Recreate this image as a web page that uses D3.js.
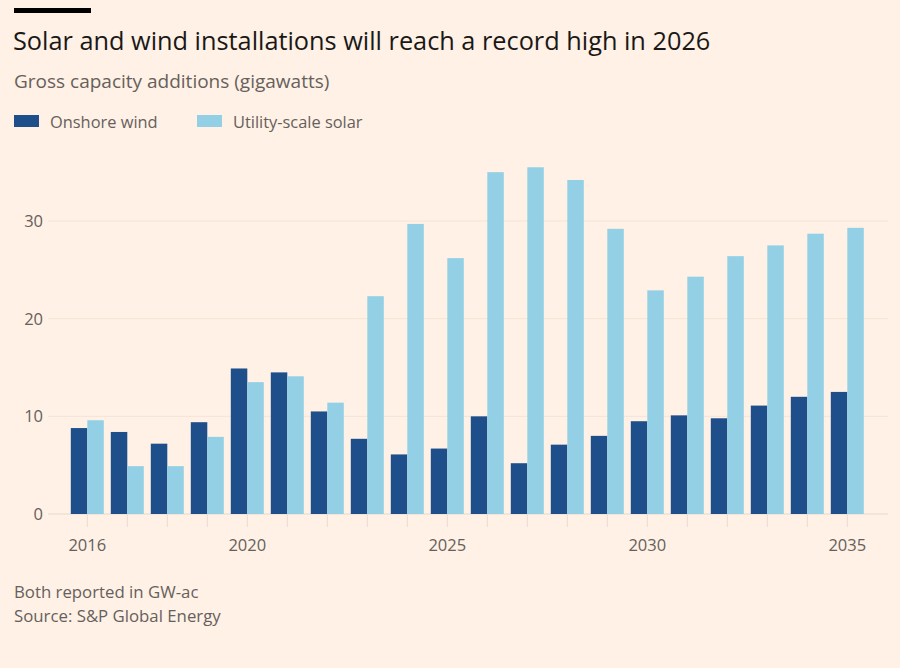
<!DOCTYPE html>
<html>
<head>
<meta charset="utf-8">
<script src="https://cdn.jsdelivr.net/npm/d3@7"></script>
<style>
  html, body { margin: 0; padding: 0; background: #fff1e5; }
  svg { display: block; font-family: 'Open Sans', Lato, sans-serif; }
</style>
</head>
<body>
<svg id="chart" width="900" height="668"></svg>
<script>
// ---- data ----
const years = d3.range(2016, 2036);
const onshoreWind = [8.8, 8.4, 7.2, 9.4, 14.9, 14.5, 10.5, 7.7, 6.1, 6.7,
                     10.0, 5.2, 7.1, 8.0, 9.5, 10.1, 9.8, 11.1, 12.0, 12.5];
const utilitySolar = [9.6, 4.9, 4.9, 7.9, 13.5, 14.1, 11.4, 22.3, 29.7, 26.2,
                      35.0, 35.5, 34.2, 29.2, 22.9, 24.3, 26.4, 27.5, 28.7, 29.3];
const yTicks = [0, 10, 20, 30];
const xLabels = [2016, 2020, 2025, 2030, 2035];
const series = [
  { key: 'wind',  label: 'Onshore wind',       values: onshoreWind,  color: '#1f4f8a' },
  { key: 'solar', label: 'Utility-scale solar', values: utilitySolar, color: '#93d0e5' }
];

const svg = d3.select('#chart');
const grey = '#66605c';

// headline block
svg.append('rect').attr('x', 14).attr('y', 8).attr('width', 77).attr('height', 5).attr('fill', '#000');
svg.append('text')
  .attr('x', 13).attr('y', 50)
  .attr('font-size', 25.3).attr('fill', '#1a1817')
  .text('Solar and wind installations will reach a record high in 2026');
svg.append('text')
  .attr('x', 14).attr('y', 87.5)
  .attr('font-size', 19).attr('fill', grey)
  .text('Gross capacity additions (gigawatts)');

// legend
const legX = [14, 197];
series.forEach((s, i) => {
  svg.append('rect').attr('x', legX[i]).attr('y', 115).attr('width', 25).attr('height', 12).attr('fill', s.color);
  svg.append('text').attr('x', legX[i] + 36).attr('y', 127.5)
    .attr('font-size', 16.4).attr('fill', grey).text(s.label);
});

// scales
const y = d3.scaleLinear().domain([0, 30]).range([514, 221]);
const x = d3.scaleBand().domain(years).range([67.3, 867.3])
  .paddingInner(0.175).paddingOuter(0.0875);
const xs = d3.scaleBand().domain(series.map(s => s.key)).range([0, x.bandwidth()]);

// gridlines + y labels
const gGrid = svg.append('g');
gGrid.selectAll('line').data(yTicks).join('line')
  .attr('x1', 48).attr('x2', 888)
  .attr('y1', d => y(d)).attr('y2', d => y(d))
  .attr('stroke', d => d === 0 ? '#e6d9ce' : '#f5e4d6').attr('stroke-width', 1);
gGrid.selectAll('text').data(yTicks).join('text')
  .attr('x', 43).attr('y', d => y(d) + 6)
  .attr('text-anchor', 'end').attr('font-size', 16.5).attr('fill', grey)
  .text(d => d);

// x tick marks
const tickX = d => x(d) + x.bandwidth() / 2;
svg.append('g').selectAll('line').data(years).join('line')
  .attr('x1', tickX).attr('x2', tickX)
  .attr('y1', 514).attr('y2', 527)
  .attr('stroke', '#eadcd0').attr('stroke-width', 1);

// bars
series.forEach(s => {
  svg.append('g').selectAll('rect').data(years).join('rect')
    .attr('x', (d) => x(d) + xs(s.key))
    .attr('width', xs.bandwidth())
    .attr('y', (d, i) => y(s.values[i]))
    .attr('height', (d, i) => y(0) - y(s.values[i]))
    .attr('fill', s.color);
});

// x labels
svg.append('g').selectAll('text').data(xLabels).join('text')
  .attr('x', tickX).attr('y', 551)
  .attr('text-anchor', 'middle').attr('font-size', 16.5).attr('fill', grey)
  .text(d => d);

// footer
svg.append('text').attr('x', 14).attr('y', 598).attr('font-size', 16.8).attr('fill', grey)
  .text('Both reported in GW-ac');
svg.append('text').attr('x', 14).attr('y', 621.5).attr('font-size', 16.8).attr('fill', grey)
  .text('Source: S&P Global Energy');
</script>
</body>
</html>
